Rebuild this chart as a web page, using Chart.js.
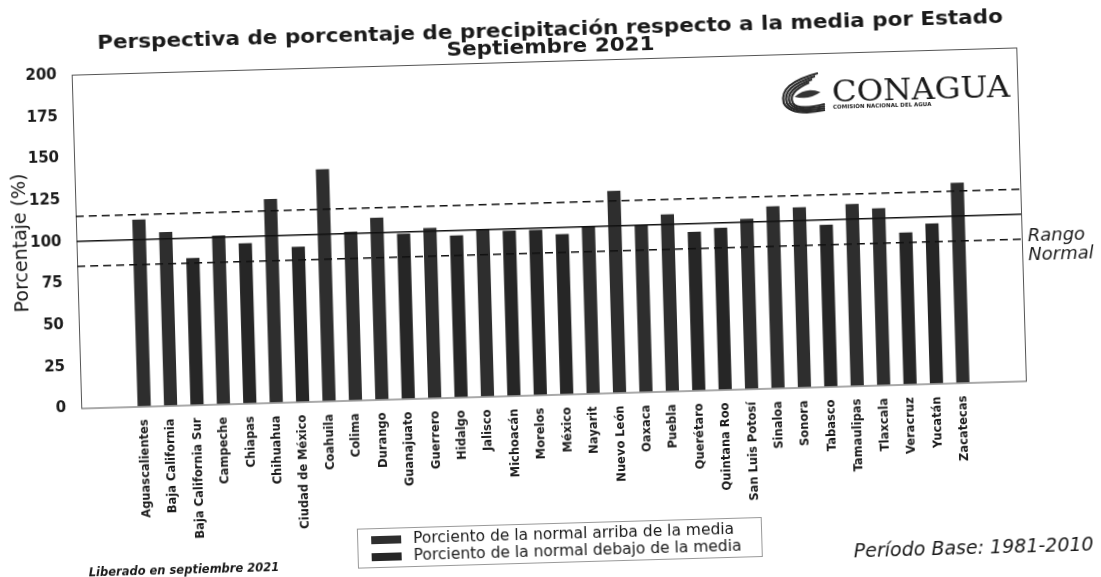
<!DOCTYPE html>
<html>
<head>
<meta charset="utf-8">
<script src="https://cdn.jsdelivr.net/npm/chart.js@4.4.0/dist/chart.umd.min.js"></script>
<style>
  html, body { margin: 0; padding: 0; background: #fff; overflow: hidden; }
  /* la hoja escaneada viene un poco girada */
  #hoja { width: 1101px; height: 577px; transform: rotate(-1.65deg); transform-origin: 550px 288px; }
</style>
</head>
<body>
<div id="hoja"><canvas id="grafica" width="1101" height="577"></canvas></div>
<script>
const estados = [
  "Aguascalientes", "Baja California", "Baja California Sur", "Campeche", "Chiapas",
  "Chihuahua", "Ciudad de México", "Coahuila", "Colima", "Durango", "Guanajuato",
  "Guerrero", "Hidalgo", "Jalisco", "Michoacán", "Morelos", "México", "Nayarit",
  "Nuevo León", "Oaxaca", "Puebla", "Querétaro", "Quintana Roo", "San Luis Potosí",
  "Sinaloa", "Sonora", "Tabasco", "Tamaulipas", "Tlaxcala", "Veracruz", "Yucatán", "Zacatecas"
];
const porcentaje = [
  112, 104, 88, 101, 96, 122, 93, 139, 101, 109, 99,
  102, 97, 100, 99, 99, 96, 100, 121, 100, 106, 95,
  97, 102, 109, 108, 97, 109, 106, 91, 96, 120
];
const media = 100;
const rangoNormal = [85, 115];
const ejeY = { min: 0, max: 200, paso: 25 };

const tinta = "#1a1a1a";
const fuente = "DejaVu Sans";

const arriba = porcentaje.map((v, i) => ({ x: i, y: v >= media ? v : null }));
const debajo = porcentaje.map((v, i) => ({ x: i, y: v < media ? v : null }));

const marco = {
  id: "marco",
  beforeDatasetsDraw(chart) {
    const { ctx, chartArea: a } = chart;
    ctx.save();
    ctx.strokeStyle = "#555";
    ctx.lineWidth = 1;
    ctx.strokeRect(a.left + 0.5, a.top + 0.5, a.width, a.height);
    ctx.restore();
  }
};

const lineasMedia = {
  id: "lineasMedia",
  afterDatasetsDraw(chart) {
    const { ctx, chartArea: a, scales: { y } } = chart;
    ctx.save();
    ctx.strokeStyle = "#111";
    ctx.lineWidth = 1.6;
    const linea = (v, dash) => {
      ctx.setLineDash(dash);
      ctx.beginPath();
      ctx.moveTo(a.left, y.getPixelForValue(v));
      ctx.lineTo(a.right, y.getPixelForValue(v));
      ctx.stroke();
    };
    linea(media, []);
    rangoNormal.forEach(v => linea(v, [8, 5]));
    ctx.setLineDash([]);
    ctx.fillStyle = tinta;
    ctx.font = "oblique 18px " + fuente;
    ctx.textAlign = "left";
    ctx.textBaseline = "middle";
    const yr = y.getPixelForValue(rangoNormal[0]);
    ctx.fillText("Rango", a.right + 6, yr - 2);
    ctx.fillText("Normal", a.right + 6, yr + 17);
    ctx.restore();
  }
};

// texto estirado en horizontal (el escaneo sale algo ancho)
function textoEstirado(ctx, txt, x, y, escala) {
  ctx.save();
  ctx.translate(x, y);
  ctx.scale(escala, 1);
  ctx.fillText(txt, 0, 0);
  ctx.restore();
}

const textos = {
  id: "textos",
  afterDraw(chart) {
    const { ctx } = chart;
    const cx = chart.width / 2;
    ctx.save();
    ctx.fillStyle = tinta;
    ctx.textBaseline = "middle";
    ctx.textAlign = "center";

    // titulo
    const titulo = "Perspectiva de porcentaje de precipitación respecto a la media por Estado";
    ctx.font = "bold 20px " + fuente;
    const k = 906 / ctx.measureText(titulo).width;
    textoEstirado(ctx, titulo, cx + 7, 31, k);
    textoEstirado(ctx, "Septiembre 2021", cx + 7, 48, k);

    // leyenda
    const lx = 350, ly = 523, lw = 404, lh = 39;
    ctx.strokeStyle = "#999";
    ctx.lineWidth = 1;
    ctx.strokeRect(lx + 0.5, ly + 0.5, lw, lh);
    ctx.font = "15.5px " + fuente;
    ctx.textAlign = "left";
    chart.data.datasets.forEach((ds, i) => {
      const yy = ly + 12 + i * 17;
      ctx.fillStyle = ds.backgroundColor;
      ctx.fillRect(lx + 14, yy - 4, 30, 8);
      ctx.fillStyle = tinta;
      ctx.fillText(ds.label, lx + 56, yy);
    });

    // pies
    ctx.textAlign = "center";
    ctx.font = "italic bold 11.5px " + fuente;
    ctx.fillText("Liberado en septiembre 2021", 176, 560);
    ctx.font = "italic 19px " + fuente;
    ctx.fillText("Período Base: 1981-2010", 966, 561);

    // logo
    ctx.strokeStyle = "#2a2a2a";
    ctx.lineWidth = 2.2;
    for (let j = 0; j < 4; j++) {
      ctx.beginPath();
      ctx.moveTo(824 - j * 3, 81 + j * 3);
      ctx.quadraticCurveTo(784 + j * 3, 90 + j * 3, 789 + j * 3, 110);
      ctx.quadraticCurveTo(796 + j * 2, 124 - j * 2, 830, 118 - j * 2);
      ctx.stroke();
    }
    ctx.fillStyle = "#333";
    ctx.beginPath();
    ctx.moveTo(800, 104);
    ctx.quadraticCurveTo(812, 94, 826, 100);
    ctx.quadraticCurveTo(814, 108, 800, 104);
    ctx.fill();

    ctx.fillStyle = tinta;
    ctx.font = "29px 'DejaVu Serif'";
    textoEstirado(ctx, "CONAGUA", 926.5, 102, 178 / ctx.measureText("CONAGUA").width);
    ctx.font = "bold 5.5px " + fuente;
    ctx.textAlign = "left";
    ctx.fillText("COMISIÓN NACIONAL DEL AGUA", 838, 116);
    ctx.restore();
  }
};

new Chart(document.getElementById("grafica"), {
  type: "bar",
  data: {
    datasets: [
      { label: "Porciento de la normal arriba de la media", data: arriba,
        backgroundColor: "#2e2e2e", barPercentage: 0.5, categoryPercentage: 1 },
      { label: "Porciento de la normal debajo de la media", data: debajo,
        backgroundColor: "#262626", barPercentage: 0.5, categoryPercentage: 1 }
    ]
  },
  options: {
    responsive: false,
    animation: false,
    layout: { padding: { left: 8, right: 78, top: 61, bottom: 0 } },
    plugins: { legend: { display: false }, title: { display: false }, tooltip: { enabled: false } },
    scales: {
      x: {
        type: "linear",
        stacked: true,
        min: -1.825,
        max: estados.length - 1 + 1.825,
        grid: { display: false },
        border: { display: false },
        afterBuildTicks: s => { s.ticks = estados.map((_, i) => ({ value: i })); },
        afterFit: s => { s.height = 182.5; },
        ticks: {
          autoSkip: false, minRotation: 90, maxRotation: 90, padding: 5,
          color: tinta, font: { family: fuente, weight: "bold", size: 11.5 },
          callback: v => estados[v]
        }
      },
      y: {
        stacked: true,
        min: ejeY.min,
        max: ejeY.max,
        grid: { display: false },
        border: { display: false },
        afterFit: s => { s.width = 70; },
        ticks: { stepSize: ejeY.paso, padding: 7, color: tinta, font: { family: fuente, weight: "bold", size: 15 } },
        title: { display: true, text: "Porcentaje (%)", color: tinta, font: { family: fuente, size: 19 }, padding: { top: 4, bottom: 4 } }
      }
    }
  },
  plugins: [marco, lineasMedia, textos]
});
</script>
</body>
</html>
